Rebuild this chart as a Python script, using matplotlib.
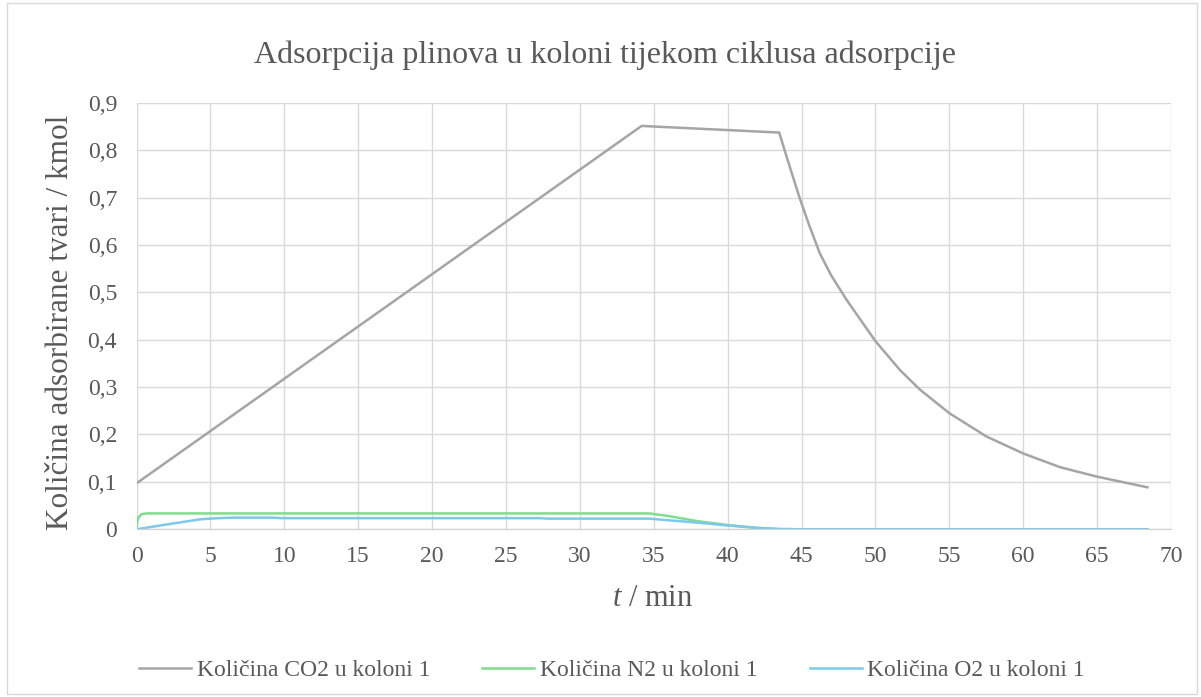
import matplotlib.pyplot as plt
from matplotlib.patches import Rectangle

# values
t_co2 = [0, 34.18, 43.49, 44, 44.84, 45.5, 46.24, 47, 48.05, 50, 51.66, 53, 55, 57.5, 60, 62.5, 65, 68.4]
n_co2 = [0.097, 0.851, 0.837, 0.785, 0.702, 0.643, 0.582, 0.536, 0.484, 0.397, 0.336, 0.295, 0.245, 0.196, 0.160, 0.131, 0.111, 0.0886]

t_n2 = [0, 0.05, 0.16, 0.35, 0.7, 34.7, 36, 38, 40, 42, 43.5, 45, 68.4]
n_n2 = [0, 0.016, 0.026, 0.032, 0.0335, 0.0335, 0.028, 0.017, 0.009, 0.003, 0.0005, 0, 0]

t_o2 = [0, 2, 4.3, 5.5, 6.5, 9.3, 9.8, 27.3, 27.8, 34.7, 36, 38, 40, 42, 43.5, 45, 68.4]
n_o2 = [0, 0.010, 0.021, 0.0235, 0.0245, 0.0245, 0.0235, 0.0235, 0.0225, 0.0225, 0.019, 0.014, 0.008, 0.003, 0.0005, 0, 0]

series_labels = ['Količina CO2 u koloni 1', 'Količina N2 u koloni 1', 'Količina O2 u koloni 1']
colors = ['#A5A5A5', '#82DC8E', '#7CC9EC']

xticks = list(range(0, 75, 5))
yticks = [0, 0.1, 0.2, 0.3, 0.4, 0.5, 0.6, 0.7, 0.8, 0.9]
ytick_labels = ['0' if v == 0 else ('%.1f' % v).replace('.', ',') for v in yticks]

plt.rcParams['font.family'] = ['Liberation Serif', 'DejaVu Serif']
plt.rcParams['mathtext.fontset'] = 'custom'
plt.rcParams['mathtext.it'] = 'Liberation Serif:italic'
plt.rcParams['mathtext.rm'] = 'Liberation Serif'
txt = '#595959'

W, H = 1201, 697
fig = plt.figure(figsize=(W/100, H/100), dpi=100)
# outer chart border
fig.patches.append(Rectangle((7/W, 3/H), 1190/W, 691/H, transform=fig.transFigure,
                             fill=False, edgecolor='#D9D9D9', lw=1))
ax = fig.add_axes([136.5/W, 1-529.3/H, (1171-136.5)/W, (529.3-102.7)/H])

for tt, nn, c, lab in zip([t_co2, t_n2, t_o2], [n_co2, n_n2, n_o2], colors, series_labels):
    ax.plot(tt, nn, color=c, lw=1.8, label=lab, solid_joinstyle='round')

ax.set_xlim(0, 70)
ax.set_ylim(0, 0.9)
ax.set_xticks(xticks)
ax.set_yticks(yticks)
ax.set_yticklabels(ytick_labels)
ax.grid(True, color='#D9D9D9', lw=1)
ax.set_axisbelow(True)
for s in ['top', 'right', 'left']:
    ax.spines[s].set_visible(False)
ax.spines['bottom'].set_color('#D0D0D0')
ax.tick_params(length=0, labelsize=17, colors=txt)
ax.tick_params(axis='y', pad=14)
ax.tick_params(axis='x', pad=12)

fig.text(653/W, 1-598/H, '$t$ / min', ha='center', va='center', fontsize=22, color=txt)
fig.text(61/W, 1-322/H, 'Količina adsorbirane tvari / kmol', rotation=90,
         ha='center', va='center', fontsize=22.5, color=txt)
fig.text(605/W, 1-55/H, 'Adsorpcija plinova u koloni tijekom ciklusa adsorpcije',
         ha='center', va='center', fontsize=23, color=txt)

fig.legend(loc='center', bbox_to_anchor=(612/W, 1-670/H), ncol=3, frameon=False,
           fontsize=17, labelcolor=txt, handlelength=2.2, handletextpad=0.25,
           columnspacing=2.2, borderpad=0)

fig.savefig('out.png', dpi=100)
